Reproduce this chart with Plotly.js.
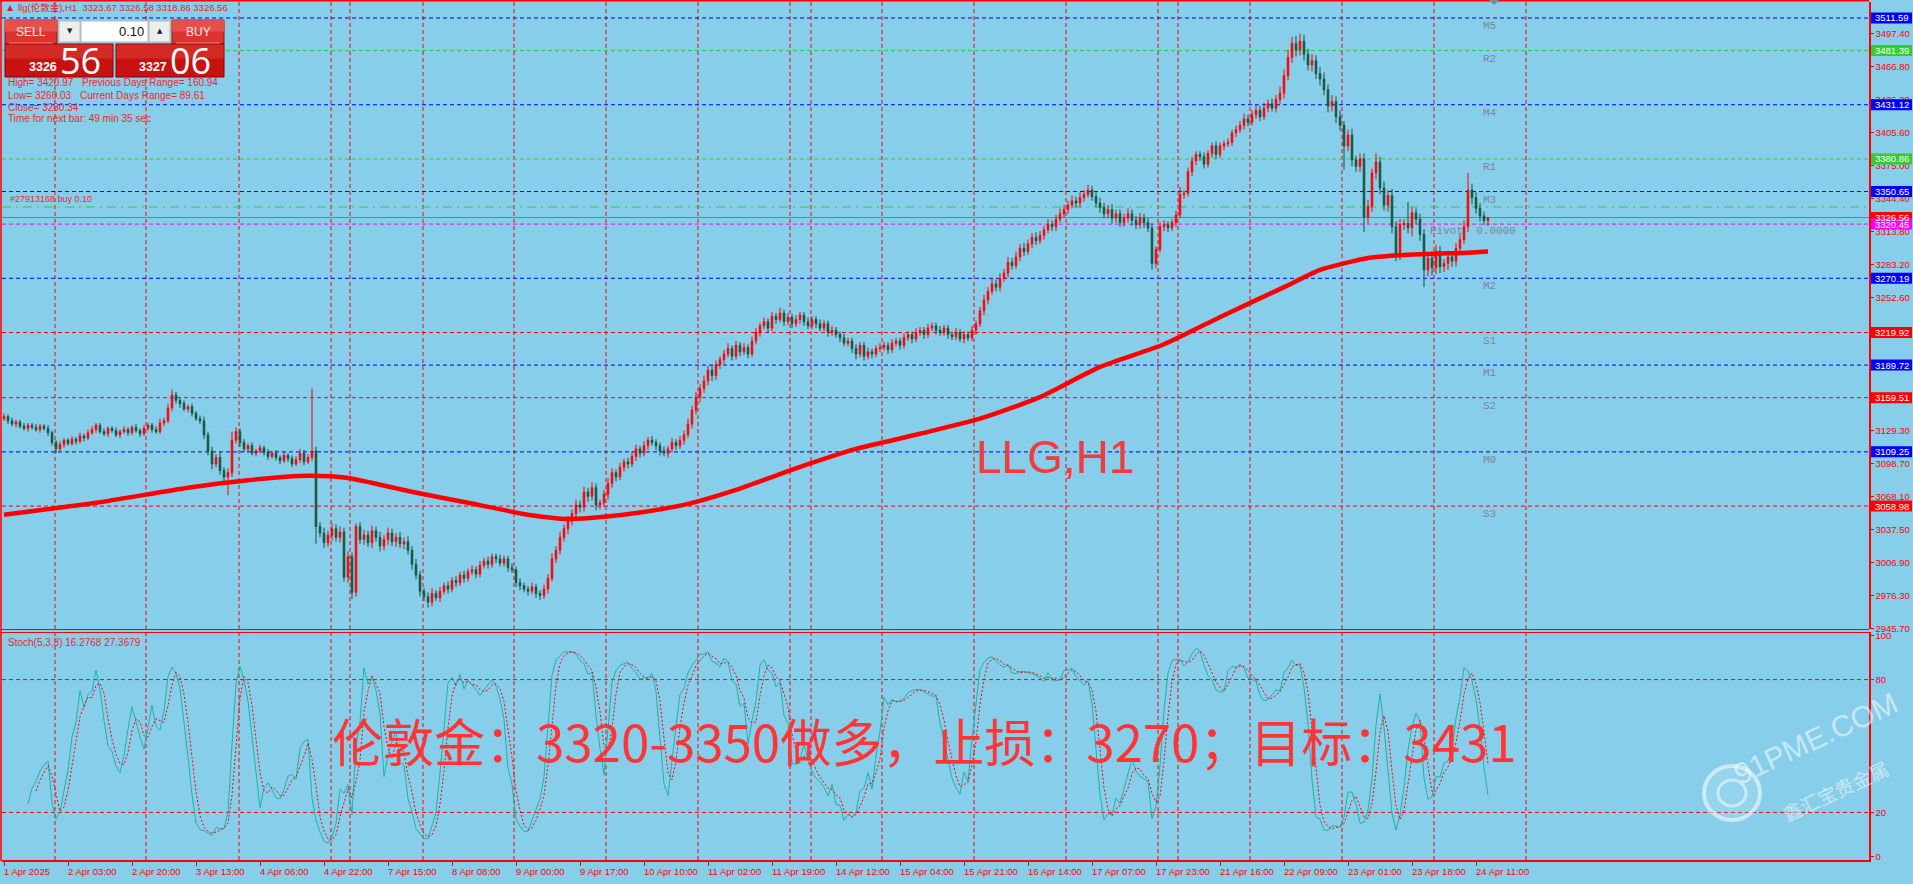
<!DOCTYPE html>
<html><head><meta charset="utf-8">
<script src="https://cdn.plot.ly/plotly-3.0.1.min.js"></script>
<style>html,body{margin:0;padding:0;background:#87ceeb;overflow:hidden}#chart{width:1913px;height:884px}</style>
</head><body><div id="chart"></div>
<script>
// ---------- DATA ----------
const firstOpen = 3140;
const closes = [
3142,3138,3135,3137,3133,3131,3134,3132,3130,3133,
3131,3127,3118,3112,3116,3120,3117,3121,3119,3124,
3122,3127,3130,3134,3128,3126,3131,3129,3125,3128,
3130,3127,3132,3129,3126,3131,3134,3130,3128,3136,
3138,3150,3162,3157,3154,3149,3151,3145,3140,3138,
3125,3110,3098,3104,3092,3086,3090,3120,3128,3118,
3112,3115,3108,3110,3113,3109,3105,3108,3104,3101,
3106,3103,3098,3102,3108,3100,3104,3110,3040,3034,
3025,3032,3038,3030,3035,2993,3012,2979,3040,3028,
3032,3025,3036,3030,3022,3028,3034,3026,3030,3024,
3026,3018,3005,2995,2980,2975,2970,2978,2974,2980,
2985,2982,2990,2988,2995,2992,2998,3000,2996,3004,
3008,3005,3012,3010,3006,3010,3002,3000,2988,2985,
2982,2980,2984,2978,2976,2982,2992,3010,3018,3030,
3038,3045,3052,3060,3058,3072,3068,3076,3060,3062,
3070,3080,3090,3086,3095,3100,3098,3105,3112,3108,
3115,3120,3118,3115,3110,3108,3112,3118,3115,3120,
3125,3135,3148,3160,3168,3175,3185,3180,3190,3195,
3200,3205,3198,3208,3202,3206,3200,3212,3220,3226,
3230,3224,3235,3232,3238,3230,3234,3228,3232,3236,
3230,3226,3232,3228,3224,3228,3220,3222,3218,3215,
3210,3212,3205,3200,3208,3198,3202,3200,3205,3206,
3208,3204,3210,3212,3208,3215,3218,3214,3220,3222,
3218,3224,3226,3222,3220,3224,3218,3216,3220,3214,
3218,3215,3222,3228,3240,3250,3258,3265,3262,3270,
3275,3285,3282,3290,3298,3295,3302,3308,3305,3310,
3315,3320,3318,3325,3330,3334,3338,3342,3340,3345,
3348,3352,3346,3340,3336,3330,3334,3326,3330,3322,
3326,3330,3324,3320,3326,3322,3317,3284,3297,3318,
3320,3317,3322,3329,3348,3349,3369,3379,3385,3383,
3376,3386,3393,3385,3393,3395,3396,3405,3408,3412,
3418,3415,3422,3426,3420,3428,3432,3428,3436,3442,
3458,3475,3488,3482,3490,3478,3468,3472,3460,3455,
3445,3430,3434,3420,3412,3393,3403,3380,3374,3381,
3327,3337,3368,3378,3354,3338,3347,3318,3292,3320,
3321,3317,3331,3325,3311,3278,3289,3280,3295,3281,
3284,3290,3286,3298,3306,3318,3352,3345,3335,3328,
3323.67,3326.56];
const wickUp = [
3,2,3,2,2,3,2,2,3,2,2,3,2,2,3,2,2,3,2,3,
2,3,3,2,2,3,2,2,3,2,3,2,2,3,2,3,2,2,3,4,
3,4,5,3,2,3,2,3,2,3,4,3,4,3,5,3,4,8,4,3,
3,2,3,2,3,2,3,2,3,2,3,2,3,3,4,3,3,58,4,4,
5,4,5,4,5,4,5,4,3,4,5,4,5,4,5,4,5,4,4,5,
4,5,4,5,4,3,4,5,3,4,3,4,3,4,3,4,3,4,3,4,
3,4,3,3,4,3,3,4,3,4,3,3,4,3,3,4,4,5,4,5,
4,5,4,5,4,5,4,5,4,3,4,5,4,3,4,3,4,5,4,3,
4,3,4,3,3,4,3,4,3,4,4,5,4,5,4,5,4,5,4,3,
4,5,3,4,3,4,3,4,4,3,4,3,4,3,5,3,4,3,4,3,
3,4,3,3,4,3,3,4,3,3,4,3,3,4,3,3,4,3,3,4,
3,3,4,3,3,4,3,3,4,3,3,4,3,3,4,3,3,3,4,3,
3,3,4,3,4,5,4,5,4,5,4,5,4,5,4,5,4,4,5,4,
4,5,4,4,5,4,4,5,4,5,4,5,4,4,5,4,4,5,4,4,
4,5,4,4,5,4,4,4,3,4,4,3,3,4,7,3,4,4,3,3,
4,3,3,4,3,3,4,3,4,4,5,4,4,5,4,5,4,5,4,6,
6,7,6,7,7,6,5,6,5,6,6,5,6,5,6,4,5,6,4,5,
5,6,4,8,5,6,5,6,5,5,4,20,5,4,5,5,5,4,6,5,
4,5,4,5,5,6,16,6,5,5,4,0.02];
const wickDown = [
2,3,2,3,2,2,3,2,2,3,2,3,3,4,2,3,2,2,3,2,
3,2,2,3,2,2,3,2,2,3,2,3,2,2,3,2,2,3,2,2,
3,2,3,3,4,2,3,3,2,3,4,4,5,3,4,4,17,4,3,4,
3,3,2,3,2,3,3,2,3,3,2,3,3,2,3,3,2,3,16,4,
5,4,5,4,5,4,5,6,4,4,5,4,5,4,5,4,5,4,5,4,
5,4,5,4,5,4,5,4,3,4,3,4,3,4,3,4,3,3,4,3,
3,4,3,4,3,3,4,3,4,4,3,4,3,4,4,3,4,3,4,4,
4,5,4,4,5,4,5,4,5,4,4,5,4,4,3,4,4,3,4,4,
3,4,3,4,4,3,4,3,4,3,4,3,4,4,5,4,4,5,4,4,
4,3,4,3,4,3,4,3,3,4,3,4,3,4,3,4,3,4,3,4,
4,3,3,4,3,3,4,3,3,4,3,3,4,5,3,4,3,4,3,3,
3,4,3,3,4,3,3,4,3,3,4,3,3,4,3,3,4,3,3,3,
4,3,3,4,3,4,4,3,4,4,3,4,4,3,4,4,3,4,4,3,
4,3,4,4,3,4,4,3,4,4,4,3,4,4,5,4,4,5,4,4,
4,4,5,4,4,5,4,6,4,3,4,4,3,4,3,4,3,4,4,4,
4,3,4,4,3,4,3,3,4,3,4,4,3,4,4,3,4,3,4,4,
5,4,5,6,5,6,5,6,5,6,5,6,5,6,5,22,5,6,5,5,
14,6,5,6,6,5,6,6,6,5,5,5,8,5,6,16,6,7,6,6,
5,6,5,5,5,4,5,6,5,5,4,4.81];
// moving average (thick red line), read at these bars
const maBars   = [0,23,46,61,76,86,101,116,131,141,150,159,171,183,198,213,229,244,259,274,290,305,320,329,335,341,351,366,371];
const maValues = [3051,3062,3076,3083,3087,3085,3073,3062,3051,3047,3049,3053,3061,3074,3094,3112,3126,3140,3160,3188,3209,3236,3262,3278,3284,3289,3292,3294,3295];
// time axis
const xTickBars = [0,16,32,48,64,80,96,112,128,144,160,176,192,208,224,240,256,272,288,304,320,336,352,368];
const xTickLabels = ['1 Apr 2025','2 Apr 03:00','2 Apr 20:00','3 Apr 13:00','4 Apr 06:00','4 Apr 22:00','7 Apr 15:00','8 Apr 08:00','9 Apr 00:00','9 Apr 17:00','10 Apr 10:00','11 Apr 02:00','11 Apr 19:00','14 Apr 12:00','15 Apr 04:00','15 Apr 21:00','16 Apr 14:00','17 Apr 07:00','17 Apr 23:00','21 Apr 16:00','22 Apr 09:00','23 Apr 01:00','23 Apr 18:00','24 Apr 11:00'];
const daySeparators = [12.75,35.5,58.75,81.75,86.5,104.75,127.5,150.5,173.5,196.5,201.75,219.5,242.5,265.5,288.5,293.5,311.5,334.5,357.5,380.5];
// price axis
const priceTicks = [3497.40,3466.80,3436.20,3405.60,3375.00,3344.40,3313.80,3283.20,3252.60,3129.30,3098.70,3068.10,3037.50,3006.90,2976.30,2945.70];
// pivot levels
const levelNames  = ['M5','R2','M4','R1','M3','M2','S1','M1','S2','M0','S3'];
const levelValues = [3511.59,3481.39,3431.12,3380.86,3350.65,3270.19,3219.92,3189.72,3159.51,3109.25,3058.98];
const bidPrice = 3326.56, pivotPrice = 3320.45, orderPrice = 3336.3;
const stochLevels = [20,80];

// ---------- BUILD ----------
const F = 'Liberation Sans, Arial, Noto Sans CJK SC, sans-serif';
const W=1913,H=884,L=2,R=44,T=2,B=24,PW=W-L-R,PH=H-T-B;
const px = x => (x-L)/PW, py = y => (H-B-y)/PH;
const n = closes.length, bars = closes.map((_,i)=>i);
const opens = closes.map((c,i)=> i===0 ? firstOpen : closes[i-1]);
const highs = closes.map((c,i)=> Math.max(opens[i],c)+wickUp[i]);
const lows  = closes.map((c,i)=> Math.min(opens[i],c)-wickDown[i]);
// Stochastic(5,3,3) derived from the OHLC above
const K=[],D=[];
for(let i=0;i<n;i++){
  if(i<6){K.push(null);continue;}
  let num=0,den=0;
  for(let j=i-2;j<=i;j++){
    let ll=Infinity,hh=-Infinity;
    for(let k=j-4;k<=j;k++){ll=Math.min(ll,lows[k]);hh=Math.max(hh,highs[k]);}
    num+=closes[j]-ll; den+=hh-ll;
  }
  K.push(den?100*num/den:50);
}
for(let i=0;i<n;i++) D.push(i<8?null:(K[i]+K[i-1]+K[i-2])/3);

const traces = [
 {type:'candlestick',x:bars,open:opens,high:highs,low:lows,close:closes,xaxis:'x',yaxis:'y',
  increasing:{line:{color:'#ff0000',width:1},fillcolor:'#ff0000'},
  decreasing:{line:{color:'#16553a',width:1},fillcolor:'#16553a'},
  whiskerwidth:0,hoverinfo:'skip',showlegend:false},
 {type:'scatter',mode:'lines',x:maBars,y:maValues,xaxis:'x',yaxis:'y',line:{color:'#ff0000',width:4.5,shape:'spline',smoothing:0.6},hoverinfo:'skip'},
 {type:'scatter',mode:'lines',x:bars,y:K,xaxis:'x',yaxis:'y2',line:{color:'#1fb3a3',width:1},hoverinfo:'skip'},
 {type:'scatter',mode:'lines',x:bars,y:D,xaxis:'x',yaxis:'y2',line:{color:'#ff0000',width:1,dash:'2px,2px'},hoverinfo:'skip'}
];

const shapes=[], ann=[];
const dsh='4px,3px';
daySeparators.forEach(d=>shapes.push({type:'line',xref:'x',yref:'paper',x0:d,x1:d,y0:0,y1:1,line:{color:'#ff0000',width:1,dash:dsh},layer:'below'}));
const lvlColor = nm => nm[0]==='M'?'#0000ff':(nm[0]==='R'?'#33cc33':'#ff0000');
levelValues.forEach((v,i)=>{
  shapes.push({type:'line',xref:'paper',yref:'y',x0:0,x1:1,y0:v,y1:v,line:{color:lvlColor(levelNames[i]),width:1,dash:dsh},layer:'below'});
  ann.push({xref:'paper',yref:'y',x:px(1481),y:v,yshift:-8,text:levelNames[i],showarrow:false,xanchor:'left',yanchor:'middle',font:{family:'Liberation Mono, DejaVu Sans Mono, monospace',size:11,color:'#7b8794'}});
});
shapes.push({type:'line',xref:'paper',yref:'y',x0:0,x1:1,y0:pivotPrice,y1:pivotPrice,line:{color:'#ff00ff',width:1,dash:dsh},layer:'below'});
shapes.push({type:'line',xref:'paper',yref:'y',x0:0,x1:1,y0:orderPrice,y1:orderPrice,line:{color:'#33cc33',width:1,dash:'9px,5px,2px,5px'},layer:'below'});
shapes.push({type:'line',xref:'paper',yref:'y',x0:0,x1:1,y0:bidPrice,y1:bidPrice,line:{color:'#708090',width:1},layer:'below'});
stochLevels.forEach(v=>shapes.push({type:'line',xref:'paper',yref:'y2',x0:0,x1:1,y0:v,y1:v,line:{color:'#ff0000',width:1,dash:dsh},layer:'below'}));
// frames
const pline=(x0,y0,x1,y1,c,w)=>shapes.push({type:'line',xref:'paper',yref:'paper',x0:px(x0),y0:py(y0),x1:px(x1),y1:py(y1),line:{color:c,width:w}});
pline(0,0.8,1869,0.8,'#ff0000',1.5);
pline(1,0,1,861,'#ff0000',1.5);
pline(0,629.5,1869,629.5,'#ff0000',1.2);
pline(0,632.5,1869,632.5,'#ff0000',1.2);
// right price boxes
const boxes=[[3511.59,'#0000ff'],[3481.39,'#33cc33'],[3431.12,'#0000ff'],[3380.86,'#33cc33'],[3350.65,'#0000ff'],[3326.56,'#ff0000'],[3320.45,'#ff00ff'],[3270.19,'#0000ff'],[3219.92,'#ff0000'],[3189.72,'#0000ff'],[3159.51,'#ff0000'],[3109.25,'#0000ff'],[3058.98,'#ff0000']];
boxes.forEach(([v,c])=>{
  shapes.push({type:'rect',xref:'paper',yref:'y',x0:px(1871),x1:px(1912),ysizemode:'pixel',yanchor:v,y0:-5.5,y1:5.5,fillcolor:c,line:{width:0},layer:'above'});
  ann.push({xref:'paper',yref:'y',x:px(1891.5),y:v,text:v.toFixed(2),showarrow:false,xanchor:'center',yanchor:'middle',font:{family:F,size:9.5,color:'#ffffff'}});
});
// one-click panel
const rect=(x0,y0,x1,y1,fill,lc)=>shapes.push({type:'rect',xref:'paper',yref:'paper',x0:px(x0),x1:px(x1),y0:py(y1),y1:py(y0),fillcolor:fill,line:{color:lc||fill,width:1},layer:'above'});
rect(5,20,57,44,'#dc3530','#a01010'); rect(5,20,57,31,'#e6504a','#e6504a');
rect(59,21,80,42,'#eeeeee','#b8b8b8'); rect(81,21,148,42,'#ffffff','#b8b8b8'); rect(149,21,170,42,'#eeeeee','#b8b8b8');
rect(172,20,224,44,'#dc3530','#a01010'); rect(172,20,224,31,'#e6504a','#e6504a');
rect(5,44,113,77,'#c81212','#8a0000'); rect(116,44,224,77,'#c81212','#8a0000');
rect(6,45,112,58,'#d42a26','#d42a26'); rect(117,45,223,58,'#d42a26','#d42a26');
pline(9,43,53,43,'#f08080',1); pline(176,43,220,43,'#f08080',1);
const txt=(x,y,t,o)=>ann.push(Object.assign({xref:'paper',yref:'paper',x:px(x),y:py(y),text:t,showarrow:false,xanchor:'left',yanchor:'middle',font:{family:F,size:10,color:'#ee2828'}},o||{}));
txt(31,32,'SELL',{xanchor:'center',font:{family:F,size:12,color:'#fbe9e9'}});
txt(198,32,'BUY',{xanchor:'center',font:{family:F,size:12,color:'#fbe9e9'}});
txt(69.5,31,'▼',{xanchor:'center',font:{family:'DejaVu Sans',size:7,color:'#222'}});
txt(159.5,31,'▲',{xanchor:'center',font:{family:'DejaVu Sans',size:7,color:'#222'}});
txt(146,31,'0.10',{xanchor:'right',font:{family:F,size:13,color:'#111'}});
txt(27,67,'<b>3326</b>',{font:{family:F,size:12.5,color:'#ffffff'}});
txt(58,60,'56',{font:{family:'Open Sans, Liberation Sans',size:36,color:'#ffffff'}});
txt(137,67,'<b>3327</b>',{font:{family:F,size:12.5,color:'#ffffff'}});
txt(168,60,'06',{font:{family:'Open Sans, Liberation Sans',size:36,color:'#ffffff'}});
// header + info
shapes.push({type:'path',xref:'paper',yref:'paper',path:`M${px(7)},${py(11)} L${px(13)},${py(11)} L${px(10)},${py(5)} Z`,fillcolor:'#e02020',line:{width:0}});
txt(16,8,'llg(伦敦金),H1  3323.67 3326.58 3318.86 3326.56',{font:{family:F,size:9.5,color:'#e82020'}});
txt(6,83,'High= 3420.97'); txt(80,83,'Previous Days Range= 160.94');
txt(6,95,'Low= 3260.03'); txt(78,95,'Current Days Range= 89.61');
txt(6,107,'Close= 3280.34'); txt(6,119,'Time for next bar: 49 min 35 sec');
txt(8,199,'#27913168 buy 0.10',{font:{family:F,size:9,color:'#ee2828'}});
txt(1518,231,'Pivot  0.0000',{xanchor:'right',font:{family:'Liberation Mono, DejaVu Sans Mono, monospace',size:11,color:'#7b8794'}});
shapes.push({type:'path',xref:'paper',yref:'paper',path:`M${px(1489)},${py(0)} L${px(1499)},${py(0)} L${px(1494)},${py(5)} Z`,fillcolor:'#7b8794',line:{width:0}});
txt(6,642,'Stoch(5,3,3) 16.2768 27.3679',{font:{family:F,size:10,color:'#ee2828'}});
// x labels
xTickBars.forEach((b,i)=>ann.push({xref:'x',yref:'paper',x:b,xshift:-2,y:py(871),text:xTickLabels[i],showarrow:false,xanchor:'left',yanchor:'middle',font:{family:F,size:9.5,color:'#ff0000'}}));
// big texts
txt(1055,457,'LLG,H1',{xanchor:'center',font:{family:F,size:46,color:'#f03c3c'}});
txt(924,740,'伦敦金：3320-3350做多，止损：3270；目标：3431',{xanchor:'center',font:{family:'Noto Sans CJK SC',size:51,color:'#ff3535'}});
// watermark
shapes.push({type:'circle',xref:'paper',yref:'paper',x0:px(1704),x1:px(1760),y0:py(820),y1:py(766),line:{color:'rgba(255,255,255,0.55)',width:4},fillcolor:'rgba(255,255,255,0.12)'});
shapes.push({type:'circle',xref:'paper',yref:'paper',x0:px(1718),x1:px(1746),y0:py(806),y1:py(780),line:{color:'rgba(255,255,255,0.5)',width:3}});
txt(1815,738,'91PME.COM',{xanchor:'center',textangle:-25,font:{family:F,size:30,color:'rgba(255,255,255,0.55)'}});
txt(1835,790,'鑫汇宝贵金属',{xanchor:'center',textangle:-25,font:{family:'Noto Sans CJK SC',size:19,color:'rgba(255,255,255,0.55)'}});

const layout = {
  width:W,height:H,margin:{l:L,r:R,t:T,b:B,pad:0},
  paper_bgcolor:'#87ceeb',plot_bgcolor:'#87ceeb',showlegend:false,boxgap:0.45,
  font:{family:F,color:'#ff0000'},
  xaxis:{domain:[0,1],range:[-0.5,466.25],anchor:'y2',showgrid:false,zeroline:false,showline:true,linecolor:'#ff0000',linewidth:2,
    ticks:'outside',tickvals:xTickBars,ticklen:4,tickcolor:'#ff0000',showticklabels:false,rangeslider:{visible:false},fixedrange:true},
  yaxis:{domain:[(860-629)/PH,1],range:[2945.0,3526.4],side:'right',anchor:'x',showgrid:false,zeroline:false,showline:true,linecolor:'#ff0000',linewidth:1.5,
    ticks:'outside',ticklen:3,tickcolor:'#ff0000',tickvals:priceTicks,ticktext:priceTicks.map(v=>v.toFixed(2)),tickfont:{family:F,size:9.5,color:'#ff0000'},fixedrange:true},
  yaxis2:{domain:[0,(860-632)/PH],range:[-1.5,101.5],side:'right',anchor:'x',showgrid:false,zeroline:false,showline:true,linecolor:'#ff0000',linewidth:1.5,
    ticks:'outside',ticklen:3,tickcolor:'#ff0000',tickvals:[0,20,80,100],ticktext:['0','20','80','100'],tickfont:{family:F,size:9.5,color:'#ff0000'},fixedrange:true},
  shapes:shapes,annotations:ann
};
Plotly.newPlot('chart',traces,layout,{staticPlot:true,displayModeBar:false});
</script></body></html>
